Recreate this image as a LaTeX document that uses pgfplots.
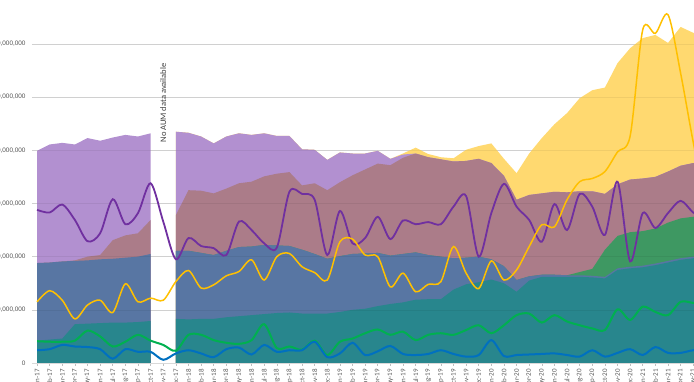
\documentclass[border=0pt]{standalone}
\usepackage{pgfplots}
\pgfplotsset{compat=1.18}
\usepackage{pgfplotstable}
\usepackage{fontspec}
\setmainfont{Carlito}
\definecolor{aPurple}{RGB}{178,144,208}
\definecolor{aMauve}{RGB}{171,124,137}
\definecolor{aBlue}{RGB}{88,118,163}
\definecolor{aTeal}{RGB}{40,134,141}
\definecolor{aGreen}{RGB}{62,152,98}
\definecolor{aYellow}{RGB}{255,217,112}
\definecolor{lPurple}{RGB}{112,48,160}
\definecolor{lYellow}{RGB}{255,192,0}
\definecolor{lGreen}{RGB}{0,176,80}
\definecolor{lBlue}{RGB}{0,112,192}
\definecolor{tickgray}{RGB}{89,89,89}
\definecolor{gridgray}{RGB}{222,222,222}
\definecolor{axisgray}{RGB}{217,217,217}
\definecolor{tickmark}{RGB}{191,191,191}
\definecolor{notegray}{RGB}{64,64,64}

% cumulative stack tops, segment before the gap (Jan-17 .. Oct-17)
\pgfplotstableread{
i T B M P
0 0.42 1.88 1.88 3.99
1 0.44 1.89 1.89 4.11
2 0.46 1.91 1.91 4.14
3 0.73 1.92 1.93 4.11
4 0.74 1.93 2.00 4.23
5 0.75 1.95 2.03 4.18
6 0.76 1.96 2.31 4.24
7 0.76 1.98 2.40 4.29
8 0.77 2.00 2.44 4.26
9 0.79 2.05 2.69 4.32
}\segone

% cumulative stack tops, segment after the gap (Dec-17 ..)
\pgfplotstableread{
i T B G M P Y
11 0.83 2.11 2.11 2.78 4.35 4.35
12 0.82 2.11 2.11 3.25 4.33 4.33
13 0.83 2.07 2.07 3.24 4.26 4.26
14 0.83 2.03 2.03 3.19 4.13 4.13
15 0.86 2.11 2.11 3.28 4.26 4.26
16 0.88 2.18 2.18 3.38 4.32 4.32
17 0.90 2.19 2.19 3.41 4.29 4.29
18 0.92 2.22 2.22 3.51 4.32 4.32
19 0.94 2.21 2.21 3.56 4.27 4.27
20 0.95 2.20 2.20 3.59 4.27 4.27
21 0.93 2.13 2.13 3.34 4.02 4.02
22 0.93 2.05 2.05 3.38 4.01 4.01
23 0.93 1.96 1.96 3.25 3.82 3.82
24 0.96 2.01 2.01 3.40 3.96 3.96
25 1.00 2.05 2.05 3.53 3.94 3.94
26 1.02 2.06 2.06 3.64 3.94 3.94
27 1.07 2.07 2.07 3.75 3.99 3.99
28 1.11 2.02 2.02 3.72 3.84 3.84
29 1.14 2.05 2.05 3.86 3.92 3.94
30 1.19 2.08 2.08 3.94 3.94 4.05
31 1.20 2.03 2.03 3.87 3.87 3.93
32 1.20 2.00 2.00 3.83 3.83 3.87
33 1.38 1.97 1.97 3.79 3.79 3.85
34 1.48 1.98 1.98 3.80 3.80 4.01
35 1.52 2.00 2.00 3.84 3.84 4.08
36 1.57 1.95 1.95 3.76 3.76 4.13
37 1.50 1.82 1.82 3.52 3.52 3.84
38 1.34 1.56 1.56 3.07 3.07 3.57
39 1.55 1.63 1.63 3.16 3.16 3.94
40 1.62 1.66 1.66 3.19 3.19 4.23
41 1.62 1.66 1.66 3.22 3.22 4.49
42 1.62 1.65 1.65 3.21 3.21 4.70
43 1.62 1.65 1.71 3.23 3.23 4.98
44 1.61 1.64 1.77 3.23 3.23 5.13
45 1.59 1.62 2.13 3.18 3.18 5.18
46 1.75 1.78 2.39 3.36 3.36 5.64
47 1.78 1.81 2.46 3.45 3.45 5.92
48 1.80 1.83 2.48 3.47 3.47 6.11
49 1.84 1.87 2.53 3.50 3.50 6.17
50 1.89 1.92 2.64 3.60 3.60 6.02
51 1.94 1.97 2.72 3.71 3.71 6.32
52 1.97 2.00 2.75 3.76 3.76 6.21
53 1.99 2.02 2.77 3.78 3.78 6.15
}\segtwo

% line series
\pgfplotstableread{
i pur yel grn blu
0 2.88 1.15 0.41 0.24
1 2.83 1.36 0.40 0.26
2 2.98 1.18 0.40 0.34
3 2.69 0.83 0.42 0.31
4 2.29 1.09 0.61 0.30
5 2.44 1.18 0.50 0.26
6 3.08 0.95 0.31 0.08
7 2.61 1.49 0.40 0.26
8 2.82 1.15 0.53 0.21
9 3.38 1.22 0.42 0.21
10 2.66 1.18 0.34 0.06
11 1.95 1.53 0.23 0.18
12 2.35 1.74 0.53 0.24
13 2.20 1.41 0.53 0.18
14 2.16 1.47 0.43 0.11
15 2.03 1.64 0.38 0.26
16 2.66 1.72 0.36 0.29
17 2.50 1.94 0.43 0.16
18 2.25 1.56 0.73 0.34
19 2.17 2.00 0.28 0.21
20 3.22 2.06 0.31 0.24
21 3.18 1.81 0.25 0.24
22 3.07 1.70 0.42 0.40
23 2.03 1.56 0.15 0.11
24 2.86 2.28 0.40 0.18
25 2.25 2.33 0.46 0.38
26 2.35 2.03 0.56 0.15
27 2.75 2.00 0.63 0.22
28 2.33 1.43 0.53 0.32
29 2.68 1.69 0.59 0.17
30 2.61 1.34 0.43 0.15
31 2.65 1.48 0.53 0.17
32 2.61 1.53 0.56 0.24
33 2.94 2.19 0.53 0.17
34 3.14 1.69 0.62 0.12
35 2.00 1.40 0.71 0.15
36 2.82 1.92 0.56 0.43
37 3.37 1.56 0.71 0.13
38 2.94 1.75 0.90 0.15
39 2.69 2.19 0.93 0.16
40 2.28 2.60 0.76 0.17
41 2.99 2.56 0.90 0.18
42 2.50 3.07 0.78 0.15
43 3.18 3.41 0.71 0.12
44 2.94 3.47 0.65 0.24
45 2.41 3.60 0.62 0.12
46 3.41 3.97 1.01 0.19
47 1.91 4.27 0.81 0.26
48 2.82 6.27 1.06 0.15
49 2.54 6.20 0.96 0.30
50 2.82 6.55 0.90 0.19
51 3.05 5.45 1.15 0.19
52 2.83 4.15 1.13 0.24
53 2.70 3.00 1.12 0.24
}\lines

\begin{document}
\begin{tikzpicture}
\useasboundingbox (-32pt,-19pt) rectangle (662pt,363pt);
\clip (-32pt,-19pt) rectangle (662pt,363pt);
\begin{axis}[
  at={(0,0)}, anchor=south west,
  scale only axis, width=662pt, height=363pt,
  xmin=-0.4, xmax=52.06, ymin=0, ymax=6.827,
  axis x line*=bottom, axis y line*=left,
  x axis line style={draw=axisgray, line width=0.75pt},
  y axis line style={draw=none},
  ymajorgrids, grid style={draw=gridgray, line width=0.6pt},
  ytick={0,1,2,3,4,5,6},
  yticklabels={0,{10,000,000},{20,000,000},{30,000,000},{40,000,000},{50,000,000},{60,000,000}},
  xtick={0,...,53},
  xticklabels={Jan-17,Feb-17,Mar-17,Apr-17,May-17,Jun-17,Jul-17,Aug-17,Sep-17,Oct-17,Nov-17,Dec-17,
    Jan-18,Feb-18,Mar-18,Apr-18,May-18,Jun-18,Jul-18,Aug-18,Sep-18,Oct-18,Nov-18,Dec-18,
    Jan-19,Feb-19,Mar-19,Apr-19,May-19,Jun-19,Jul-19,Aug-19,Sep-19,Oct-19,Nov-19,Dec-19,
    Jan-20,Feb-20,Mar-20,Apr-20,May-20,Jun-20,Jul-20,Aug-20,Sep-20,Oct-20,Nov-20,Dec-20,
    Jan-21,Feb-21,Mar-21,Apr-21,May-21,Jun-21},
  tick align=outside, major tick length=3pt,
  xtick style={draw=tickmark, line width=0.6pt},
  ytick style={draw=none},
  ticklabel style={font=\fontsize{7}{8}\selectfont, text=tickgray},
  xticklabel style={rotate=90, anchor=east, inner sep=1pt, xshift=-2pt},
  /pgf/number format/assume math mode=true,
  clip=true,
]
% stacked areas painted from the top layer down
\addplot[fill=aYellow, draw=none] table[x=i,y=Y] {\segtwo} \closedcycle;
\addplot[fill=aPurple, draw=none] table[x=i,y=P] {\segone} \closedcycle;
\addplot[fill=aPurple, draw=none] table[x=i,y=P] {\segtwo} \closedcycle;
\addplot[fill=aMauve, draw=none] table[x=i,y=M] {\segone} \closedcycle;
\addplot[fill=aMauve, draw=none] table[x=i,y=M] {\segtwo} \closedcycle;
\addplot[fill=aGreen, draw=none] table[x=i,y=G] {\segtwo} \closedcycle;
\addplot[fill=aBlue, draw=none] table[x=i,y=B] {\segone} \closedcycle;
\addplot[fill=aBlue, draw=none] table[x=i,y=B] {\segtwo} \closedcycle;
\addplot[fill=aTeal, draw=none] table[x=i,y=T] {\segone} \closedcycle;
\addplot[fill=aTeal, draw=none] table[x=i,y=T] {\segtwo} \closedcycle;
\pgfplotsinvokeforeach{1,...,6}{\draw[black, opacity=0.06, line width=0.6pt] (axis cs:-0.4,#1) -- (axis cs:53,#1);}
% lines
\addplot[lPurple, line width=1.8pt, smooth, tension=0.5] table[x=i,y=pur] {\lines};
\addplot[lYellow, line width=1.5pt, smooth, tension=0.5] table[x=i,y=yel] {\lines};
\addplot[lGreen, line width=2pt, smooth, tension=0.5] table[x=i,y=grn] {\lines};
\addplot[lBlue, line width=2pt, smooth, tension=0.5] table[x=i,y=blu] {\lines};
\node[rotate=90, font=\fontsize{8.5}{10}\selectfont, text=notegray] at (axis cs:10,4.89) {No AUM data available};
\end{axis}
\end{tikzpicture}
\end{document}
